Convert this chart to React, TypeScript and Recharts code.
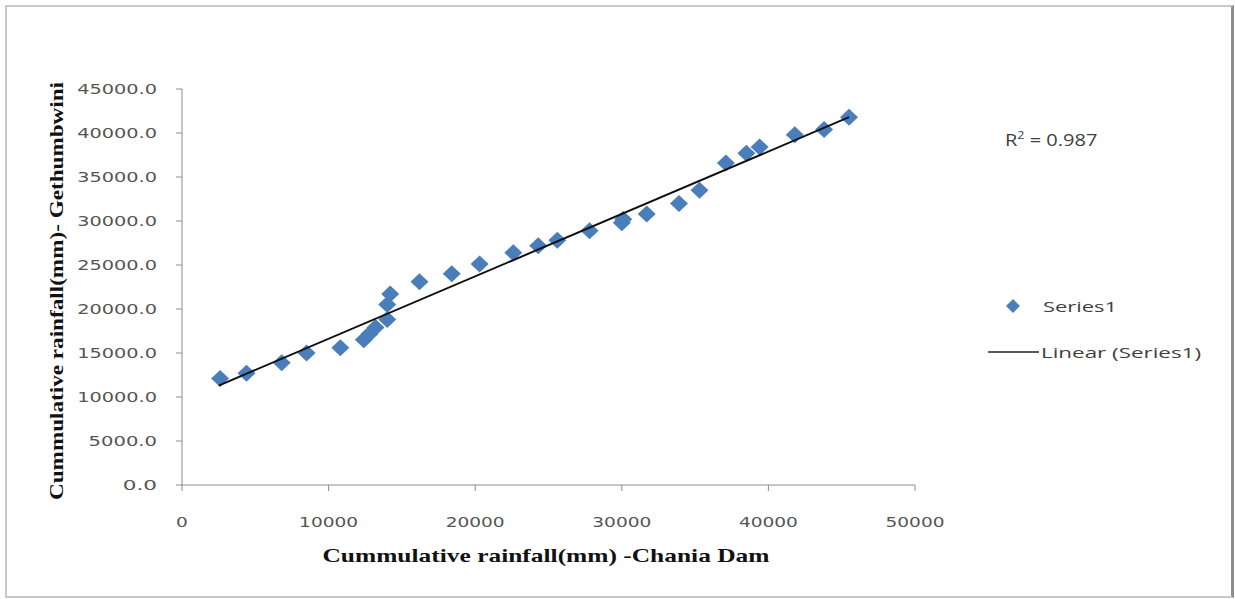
import React from "react";
import { Scatter, ScatterChart, XAxis, YAxis, Label } from "recharts";

// cumulative rainfall (mm)
const chaniaDam = [
  2600, 4400, 6800, 8500, 10800, 12400, 12800, 13200, 14000, 14000, 14200, 16200, 18400,
  20300, 22600, 24300, 25600, 27800, 30000, 30100, 31700, 33900, 35300, 37100, 38500,
  39400, 41800, 43800, 45500,
];
const gethumbwini = [
  12100, 12700, 13900, 15000, 15600, 16500, 17200, 17900, 18800, 20500, 21700, 23100, 24000,
  25100, 26400, 27200, 27800, 28900, 29800, 30200, 30800, 32000, 33500, 36600, 37700,
  38400, 39800, 40400, 41800,
];

// linear trendline end points (Excel "Linear (Series1)")
const trendX = [2500, 45500];
const trendY = [11300, 41800];

const xTicks = [0, 10000, 20000, 30000, 40000, 50000];
const yTicks = [0, 5000, 10000, 15000, 20000, 25000, 30000, 35000, 40000, 45000];

const points = chaniaDam.map((x, i) => ({ x, y: gethumbwini[i] }));
const trend = trendX.map((x, i) => ({ x, y: trendY[i] }));

const BLUE = "#4a7ebb";
const AXIS = "#8c8c8c";
const TICK_FONT = "'DejaVu Sans', sans-serif";
const TITLE_FONT = "'Liberation Serif', 'Times New Roman', serif";

function Diamond(props: any) {
  const { cx, cy } = props;
  if (cx == null || cy == null) return <g />;
  const w = 9;
  const h = 8.5;
  return (
    <polygon
      points={`${cx},${cy - h} ${cx + w},${cy} ${cx},${cy + h} ${cx - w},${cy}`}
      fill={BLUE}
    />
  );
}

function YTick(props: any) {
  const { x, y, payload } = props;
  const s = Number(payload.value).toFixed(1);
  return (
    <text
      x={x}
      y={y}
      textAnchor="end"
      dominantBaseline="central"
      fontFamily={TICK_FONT}
      fontSize={14}
      fill="#555"
      textLength={s.length * 11.4}
      lengthAdjust="spacingAndGlyphs"
    >
      {s}
    </text>
  );
}

function XTick(props: any) {
  const { x, y, payload } = props;
  const s = String(payload.value);
  return (
    <text
      x={x}
      y={y}
      textAnchor="middle"
      dominantBaseline="central"
      fontFamily={TICK_FONT}
      fontSize={14}
      fill="#555"
      textLength={s.length * 11.8}
      lengthAdjust="spacingAndGlyphs"
    >
      {s}
    </text>
  );
}

function YTitle(props: any) {
  const { viewBox } = props;
  const cy = viewBox.y + viewBox.height / 2 + 4;
  const cx = 57;
  return (
    <text
      x={cx}
      y={cy}
      transform={`rotate(-90 ${cx} ${cy})`}
      textAnchor="middle"
      dominantBaseline="central"
      fontFamily={TITLE_FONT}
      fontWeight="bold"
      fontSize={18}
      fill="#111"
      textLength={418}
      lengthAdjust="spacingAndGlyphs"
    >
      Cummulative  rainfall(mm)- Gethumbwini
    </text>
  );
}

function XTitle(props: any) {
  const { viewBox } = props;
  return (
    <text
      x={546}
      y={viewBox.y + 70}
      textAnchor="middle"
      dominantBaseline="central"
      fontFamily={TITLE_FONT}
      fontWeight="bold"
      fontSize={19}
      fill="#111"
      textLength={447}
      lengthAdjust="spacingAndGlyphs"
    >
      Cummulative  rainfall(mm)  -Chania Dam
    </text>
  );
}

function Side() {
  const font = "'Open Sans', 'DejaVu Sans', sans-serif";
  return (
    <svg
      width={260}
      height={280}
      style={{ position: "absolute", left: 975, top: 110 }}
    >
      <g transform="translate(30 0) scale(1.25 1)">
        <text x={0} y={30} dominantBaseline="central" fontFamily={font} fontSize={16} fill="#404040">
          R<tspan dy={-5} fontSize={10}>2</tspan>
          <tspan dy={5}> = 0.987</tspan>
        </text>
      </g>
      <polygon points="38,189 45,196 38,203 31,196" fill={BLUE} />
      <text
        x={68}
        y={196}
        dominantBaseline="central"
        fontFamily={font}
        fontSize={15}
        fill="#404040"
        textLength={74}
        lengthAdjust="spacingAndGlyphs"
      >
        Series1
      </text>
      <line x1={13} y1={242} x2={64} y2={242} stroke="#222" strokeWidth={1.5} />
      <text
        x={66}
        y={242}
        dominantBaseline="central"
        fontFamily={font}
        fontSize={15}
        fill="#404040"
        textLength={160}
        lengthAdjust="spacingAndGlyphs"
      >
        Linear (Series1)
      </text>
    </svg>
  );
}

export default function App() {
  return (
    <div
      style={{
        position: "absolute",
        left: 0,
        top: 0,
        width: 1235,
        height: 599,
        background: "#fff",
      }}
    >
      <div
        style={{
          position: "absolute",
          left: 5,
          top: 5,
          width: 1224,
          height: 589,
          borderTop: "2px solid #c8c8c8",
          borderLeft: "2px solid #c8c8c8",
          borderBottom: "2px solid #c8c8c8",
          borderRight: "3px solid #8f8f8f",
        }}
      />
      <div style={{ position: "absolute", left: 0, top: 0 }}>
        <ScatterChart
          width={1235}
          height={599}
          margin={{ top: 89, right: 320, bottom: 29, left: 20 }}
        >
          <XAxis
            type="number"
            dataKey="x"
            domain={[0, 50000]}
            ticks={xTicks}
            interval={0}
            height={85}
            stroke={AXIS}
            tickSize={6}
            tickMargin={31}
            tick={<XTick />}
          >
            <Label content={<XTitle />} />
          </XAxis>
          <YAxis
            type="number"
            dataKey="y"
            domain={[0, 45000]}
            ticks={yTicks}
            interval={0}
            width={162}
            stroke={AXIS}
            tickSize={6}
            tickMargin={19}
            tick={<YTick />}
          >
            <Label content={<YTitle />} />
          </YAxis>
          <Scatter
            name="Series1"
            data={points}
            shape={<Diamond />}
            isAnimationActive={false}
          />
          <Scatter
            name="Linear (Series1)"
            data={trend}
            line={{ stroke: "#111", strokeWidth: 2 }}
            shape={() => <g />}
            isAnimationActive={false}
          />
        </ScatterChart>
      </div>
      <Side />
    </div>
  );
}
